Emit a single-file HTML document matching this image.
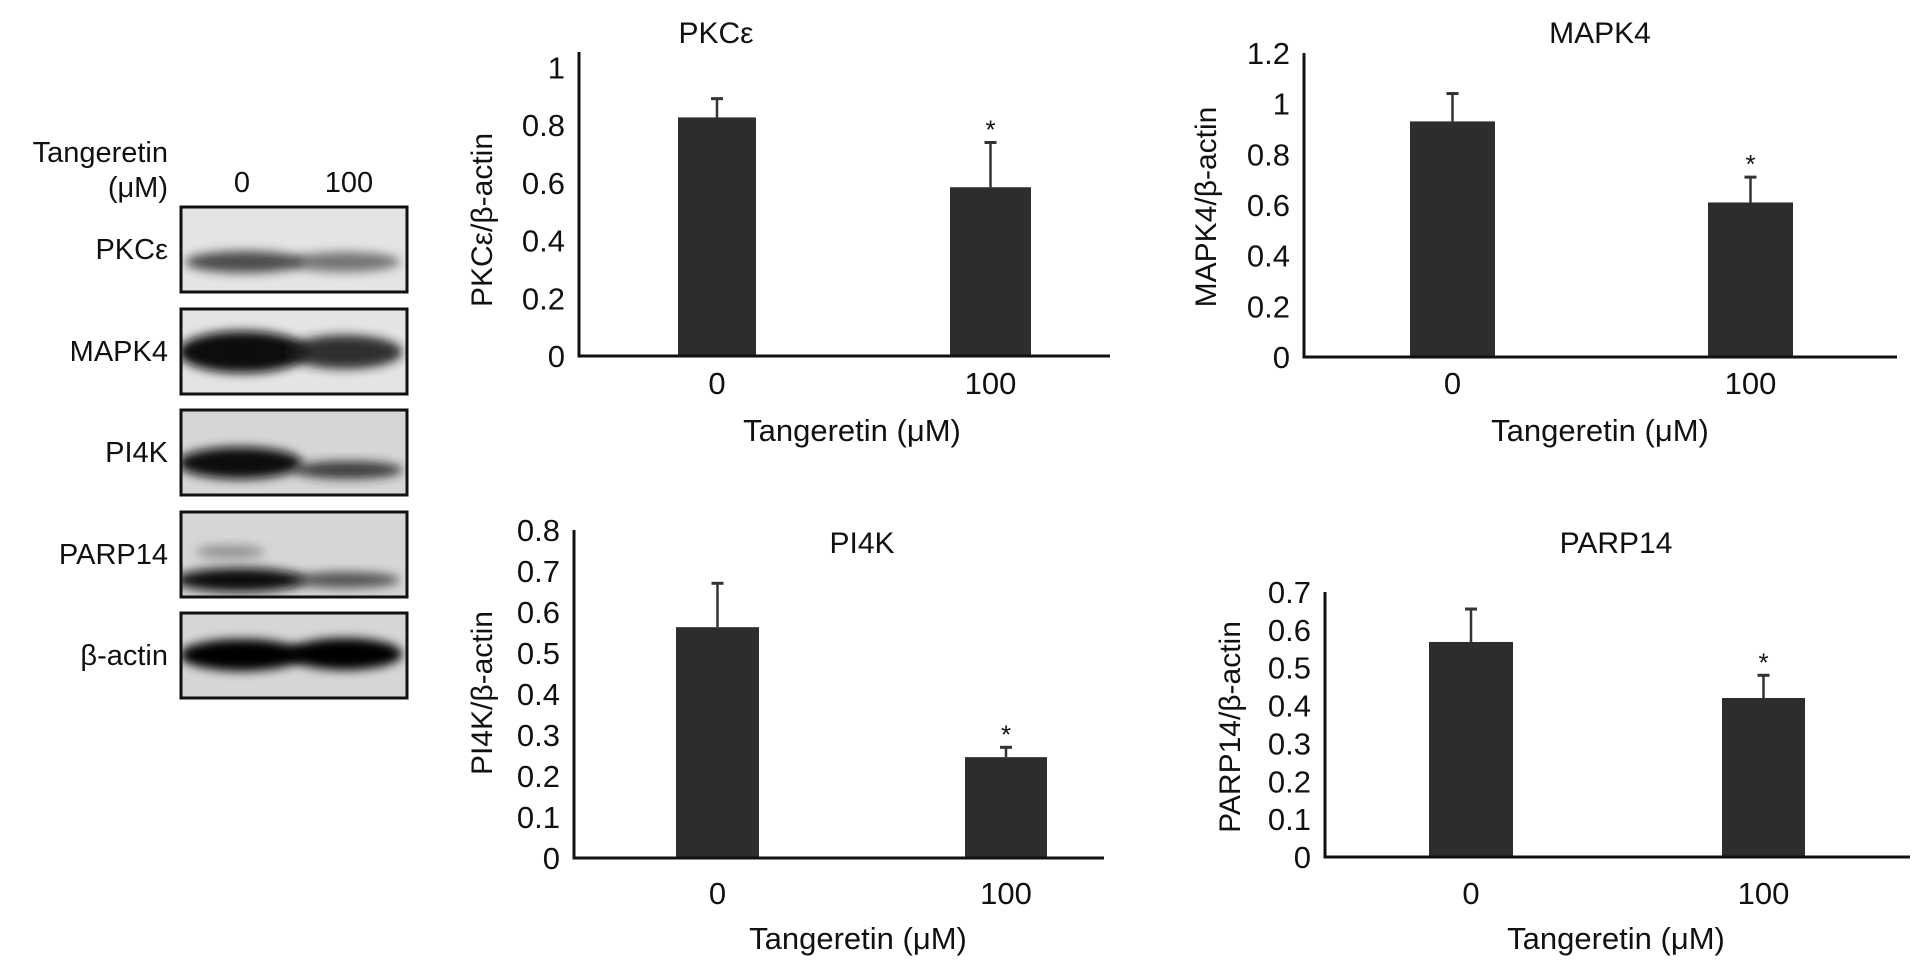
<!DOCTYPE html>
<html><head><meta charset="utf-8"><style>
html,body{margin:0;padding:0;background:#fff;}
svg{display:block;font-family:"Liberation Sans",Arial,sans-serif;}
</style></head><body>
<svg id="fig" width="1913" height="964" viewBox="0 0 1913 964">
<defs>
<filter id="blur" x="-20%" y="-50%" width="140%" height="200%"><feGaussianBlur stdDeviation="5"/></filter>
</defs>
<g id="blot" font-size="29" fill="#111">
<text x="168" y="162" text-anchor="end">Tangeretin</text>
<text x="168" y="197" text-anchor="end">(μM)</text>
<text x="242" y="192" text-anchor="middle">0</text>
<text x="349" y="192" text-anchor="middle">100</text>
</g>
<g id="charts"></g>
</svg>
<script>
var blotNames = ["PKCε","MAPK4","PI4K","PARP14","β-actin"];
var blotTops = [207,309,410,512,613];
var blotBands = [
  [{x:245,y:262,w:120,h:22,c:"#333",o:0.85},{x:345,y:262,w:110,h:20,c:"#444",o:0.7}],
  [{x:243,y:352,w:130,h:42,c:"#0a0a0a",o:1},{x:345,y:352,w:115,h:34,c:"#1a1a1a",o:0.9}],
  [{x:240,y:463,w:125,h:32,c:"#0a0a0a",o:1},{x:348,y:470,w:110,h:18,c:"#222",o:0.85}],
  [{x:240,y:580,w:130,h:24,c:"#111",o:1},{x:345,y:580,w:110,h:16,c:"#333",o:0.8},{x:230,y:552,w:70,h:14,c:"#555",o:0.5}],
  [{x:242,y:655,w:125,h:32,c:"#050505",o:1},{x:345,y:654,w:115,h:32,c:"#050505",o:1}]
];
var NS="http://www.w3.org/2000/svg";
function mk(tag,attrs,parent){var e=document.createElementNS(NS,tag);for(var k in attrs)e.setAttribute(k,attrs[k]);parent.appendChild(e);return e;}
var svg=document.getElementById('fig');
var defs=svg.querySelector('defs');
var blot=document.getElementById('blot');
blotNames.forEach(function(n,i){
  var t=blotTops[i];
  var cp=mk('clipPath',{id:'clip'+i},defs);
  mk('rect',{x:181,y:t,width:226,height:85},cp);
  var g=mk('g',{},blot);
  
  
  var inner=mk('g',{'clip-path':'url(#clip'+i+')'},g);
  var bg=mk('rect',{x:181,y:t,width:226,height:85,fill:i>=2?"#d6d6d6":"#e4e4e4"},inner);
  
  
  blotBands[i].forEach(function(b){
    var el=mk('ellipse',{cx:b.x,cy:b.y,rx:b.w/2,ry:b.h/2,fill:b.c,opacity:b.o,filter:'url(#blur)'},inner);
    
    
  });
  var fr=mk('rect',{x:181,y:t,width:226,height:85,fill:"none",stroke:"#111","stroke-width":3},g);
  
  
  var lb=mk('text',{x:168,y:t+52,"text-anchor":"end","font-size":29,fill:"#111"},g);
  lb.textContent=n;
  
  
});

var categories = ["0","100"];
var pkcValues = [0.827, 0.585];
var pkcErrors = [0.065, 0.155];
var pkcTicks = ["0","0.2","0.4","0.6","0.8","1"];
var mapkValues = [0.93, 0.61];
var mapkErrors = [0.11, 0.10];
var mapkTicks = ["0","0.2","0.4","0.6","0.8","1","1.2"];
var pi4kValues = [0.563, 0.246];
var pi4kErrors = [0.107, 0.024];
var pi4kTicks = ["0","0.1","0.2","0.3","0.4","0.5","0.6","0.7","0.8"];
var parpValues = [0.568, 0.42];
var parpErrors = [0.087, 0.06];
var parpTicks = ["0","0.1","0.2","0.3","0.4","0.5","0.6","0.7"];
var significant = [false, true];

var charts=[
 {id:"pkc",title:"PKCε",ytitle:"PKCε/β-actin",vals:pkcValues,errs:pkcErrors,ticks:pkcTicks,
  ax:579,base:356,top:67.5,axTop:52,right:1110,bars:[[678,756],[950,1031]],ytx:492,yty:220,xl:383,xt:430,tx:716,ty:32,xtc:852},
 {id:"mapk4",title:"MAPK4",ytitle:"MAPK4/β-actin",vals:mapkValues,errs:mapkErrors,ticks:mapkTicks,
  ax:1304,base:357,top:53,axTop:53,right:1897,bars:[[1410,1495],[1708,1793]],ytx:1216,yty:207,xl:383,xt:430,tx:1600,ty:32,xtc:1600},
 {id:"pi4k",title:"PI4K",ytitle:"PI4K/β-actin",vals:pi4kValues,errs:pi4kErrors,ticks:pi4kTicks,
  ax:574,base:858,top:530,axTop:530,right:1104,bars:[[676,759],[965,1047]],ytx:492,yty:693,xl:893,xt:938,tx:862,ty:542,xtc:858},
 {id:"parp14",title:"PARP14",ytitle:"PARP14/β-actin",vals:parpValues,errs:parpErrors,ticks:parpTicks,
  ax:1325,base:857,top:592,axTop:592,right:1910,bars:[[1429,1513],[1722,1805]],ytx:1240,yty:727,xl:893,xt:938,tx:1616,ty:542,xtc:1616}
];
var root=document.getElementById('charts');
charts.forEach(function(c){
  var g=mk('g',{fill:"#111"},root);
  
  
  var maxV=parseFloat(c.ticks[c.ticks.length-1]);
  function y(v){return c.base-(c.base-c.top)*v/maxV;}
  var t=mk('text',{x:c.tx,y:c.ty+11,"text-anchor":"middle","font-size":30},g);t.textContent=c.title;
  
  
  c.ticks.forEach(function(tk){
    var tl=mk('text',{x:c.ax-14,y:y(parseFloat(tk))+11,"text-anchor":"end","font-size":31},g);tl.textContent=tk;
    
    
  });
  var yt=mk('text',{x:0,y:0,"text-anchor":"middle","font-size":30,transform:"translate("+c.ytx+","+c.yty+") rotate(-90)"},g);yt.textContent=c.ytitle;
  
  
  c.vals.forEach(function(v,i){
    var b=c.bars[i], cx=(b[0]+b[1])/2;
    var eb=mk('line',{x1:cx,x2:cx,y1:y(v),y2:y(v+c.errs[i]),stroke:"#333","stroke-width":2.5},g);
    
    
    var cap=mk('line',{x1:cx-6,x2:cx+6,y1:y(v+c.errs[i]),y2:y(v+c.errs[i]),stroke:"#333","stroke-width":3},g);
    
    
    var r=mk('rect',{x:b[0],y:y(v),width:b[1]-b[0],height:c.base-y(v),fill:"#2d2d2d"},g);
    
    
    if(significant[i]){
      var s=mk('text',{x:cx,y:y(v+c.errs[i])-4,"text-anchor":"middle","font-size":26},g);s.textContent="*";
      
      
    }
    var xl=mk('text',{x:cx,y:c.xl+11,"text-anchor":"middle","font-size":31},g);xl.textContent=categories[i];
    
    
  });
  var axp=mk('path',{d:"M"+c.ax+" "+c.axTop+" V"+c.base+" H"+c.right,fill:"none",stroke:"#111","stroke-width":3},g);
  
  
  var xt=mk('text',{x:c.xtc,y:c.xt+11,"text-anchor":"middle","font-size":31},g);xt.textContent="Tangeretin (μM)";
  
  
});
</script>
</body></html>
